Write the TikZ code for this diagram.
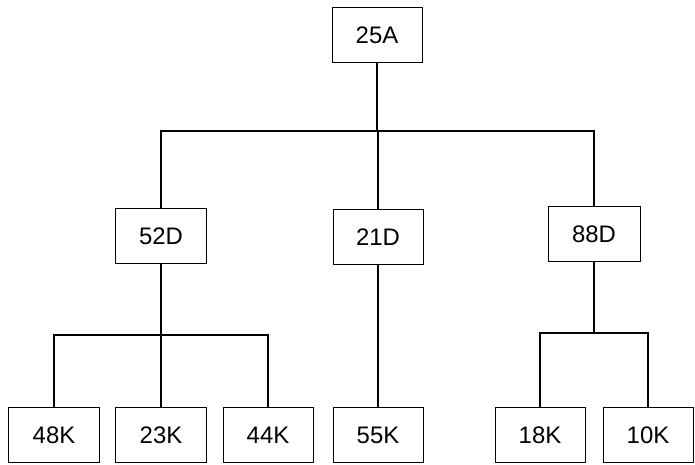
\documentclass[tikz,border=0pt]{standalone}
\usepackage{fontspec}
\setmainfont{Liberation Sans}
\usepackage{tikz}
\usetikzlibrary{positioning,calc}

\begin{document}
\begin{tikzpicture}[x=0.025cm, y=-0.025cm,
		box/.style={draw, rectangle, line width=0.7pt, minimum width=2.25cm, minimum height=1.375cm, font=\fontsize{17}{20}\selectfont},
		link/.style={line width=1.4pt}]
		\useasboundingbox (0,0) rectangle (695,465);

		% root
		\node[box] (a25) at (377,35) {25A};

		% second level
		\node[box] (d52) at (161,236) {52D};
		\node[box] (d21) at (378,237) {21D};
		\node[box, minimum width=2.3cm] (d88) at (594,234) {88D};

		% leaves
		\node[box] (k48) at (54,435) {48K};
		\node[box] (k23) at (161,435) {23K};
		\node[box] (k44) at (268,435) {44K};
		\node[box] (k55) at (378,435) {55K};
		\node[box] (k18) at (540,435) {18K};
		\node[box] (k10) at (648,435) {10K};

		% bars
		\coordinate (bartop) at (377,131);
		\coordinate (barleft) at (161,335);
		\coordinate (barright) at (594,333);

		\draw[link] (a25) -- (a25 |- bartop);
		\draw[link] (d52) |- (bartop) -| (d88);
		\draw[link] (d21) -- (d21 |- bartop);

		\draw[link] (k48) |- (barleft) -| (k44);
		\draw[link] (d52) -- (k23);
		\draw[link] (d21) -- (k55);
		\draw[link] (k18) |- (barright) -| (k10);
		\draw[link] (d88) -- (d88 |- barright);
	\end{tikzpicture}
\end{document}
